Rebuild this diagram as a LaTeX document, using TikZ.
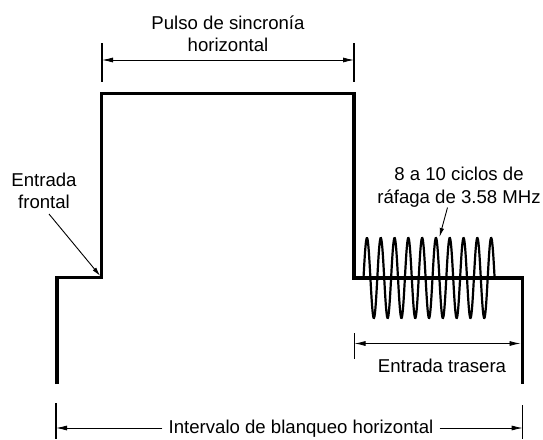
\documentclass[tikz,border=0pt]{standalone}
\usepackage{fontspec}
\setmainfont{Liberation Sans}
\usetikzlibrary{arrows.meta,positioning,calc}

\begin{document}
\begin{tikzpicture}[x=1pt,y=-1pt,
   font=\fontsize{18.6}{22.4}\selectfont,
   wave/.style={line width=3.6pt,line join=miter},
   burst/.style={line width=2.2pt},
   tickline/.style={line width=1.1pt},
   dim/.style={line width=0.8pt,{Latex[length=11pt,width=5pt]}-{Latex[length=11pt,width=5pt]}},
   oneway/.style={line width=0.8pt,-{Latex[length=11pt,width=5pt]}},
   callout/.style={line width=0.9pt,-{Latex[length=9pt,width=4.5pt]}},
   lbl/.style={align=center,inner sep=0pt}]
  \useasboundingbox (0,0) rectangle (543,439);

  % linea de borrado horizontal
  \coordinate (b0) at (57,384);
  \coordinate (b1) at (57,277.5);
  \coordinate (fp) at (101.5,277.5);
  \coordinate (s1) at (101.5,93.5);
  \coordinate (s2) at (354,93.5);
  \coordinate (bp) at (354,278);
  \coordinate (b2) at (522.5,278);
  \coordinate (b3) at (522.5,384);
  \draw[burst] plot[domain=0:9.5,samples=400,smooth]
        ({363.5+13.8*\x},{278-40*sin(360*\x)});
  \draw[wave] (b0) -- (b1) -- (fp) -- (s1) -- (s2) -- (bp) -- (b2) -- (b3);

  % pulso de sincronia
  \coordinate (st1) at (102,43);  \coordinate (sb1) at (102,82);
  \coordinate (st2) at (354,43);  \coordinate (sb2) at (354,82);
  \coordinate (sl) at (102,60);   \coordinate (sr) at (354,60);
  \draw[tickline] (st1) -- (sb1);
  \draw[tickline] (st2) -- (sb2);
  \draw[dim] (sl) -- (sr);
  \node[lbl] (sync) at (228,34) {Pulso de sincronía\\horizontal};

  % entrada frontal
  \node[lbl] (front) at (44,191) {Entrada\\frontal};
  \coordinate (fa) at (49,214);
  \draw[callout,shorten >=2pt] (fa) -- (fp);

  % rafaga
  \node[lbl] (burstlbl) at (459,187) {8 a 10 ciclos de\\ráfaga de 3.58 MHz};
  \coordinate (ba) at (447.5,207.5);
  \coordinate (pk) at (439.5,237);
  \draw[callout] (ba) -- (pk);

  % entrada trasera
  \coordinate (rt) at (354.5,333); \coordinate (rb) at (354.5,359);
  \coordinate (rl) at (354.5,343.5); \coordinate (rr) at (520.5,343.5);
  \draw[tickline] (rt) -- (rb);
  \draw[dim] (rl) -- (rr);
  \node[lbl] (back) at (442,366) {Entrada trasera};

  % intervalo de blanqueo
  \coordinate (kt1) at (56,403);  \coordinate (kb1) at (56,439);
  \coordinate (kt2) at (522.7,405); \coordinate (kb2) at (522.7,439);
  \coordinate (kl) at (56,428);   \coordinate (kr) at (522.7,428);
  \draw[tickline] (kt1) -- (kb1);
  \draw[tickline] (kt2) -- (kb2);
  \node[lbl,inner xsep=6pt] (blank) at (301,429) {Intervalo de blanqueo horizontal};
  \draw[oneway] (blank.west |- kl) -- (kl);
  \draw[oneway] (blank.east |- kr) -- (kr);
\end{tikzpicture}
\end{document}
